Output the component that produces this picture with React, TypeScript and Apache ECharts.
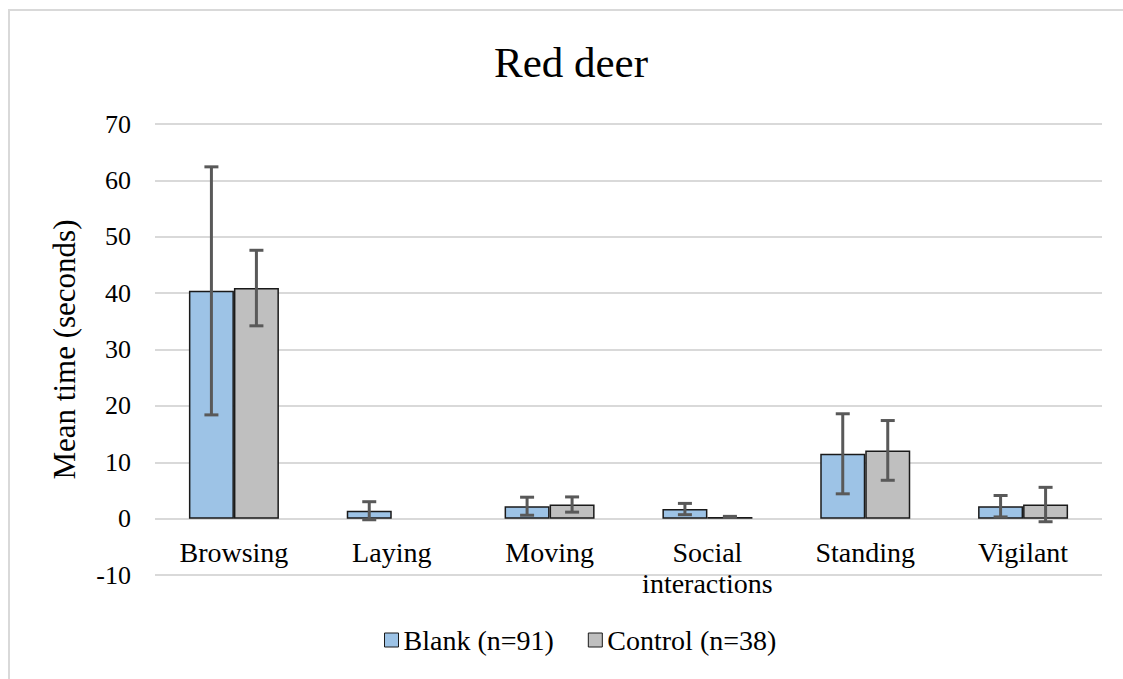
import React, { useEffect, useRef } from "react";
import * as echarts from "echarts";

const categories = ["Browsing", "Laying", "Moving", "Social\ninteractions", "Standing", "Vigilant"];
const blankMeans: (number | null)[] = [40.4, 1.4, 2.2, 1.7, 11.5, 2.2];
const blankErr: (number | null)[] = [22.0, 1.6, 1.6, 1.0, 7.1, 1.9];
const controlMeans: (number | null)[] = [40.9, null, 2.5, 0.3, 12.1, 2.5];
const controlErr: (number | null)[] = [6.7, null, 1.35, 0.1, 5.3, 3.05];
const yTicks = { min: -10, max: 70, interval: 10 };

const FONT = "Liberation Serif";
const BAR_W = 45;
const GRID_TOP = 124;
const GRID_BOTTOM = 104;
const CHART_H = 679;

function errorSeries(name: string, means: (number | null)[], errs: (number | null)[], offset: number) {
  const data = means
    .map((m, i) => (m == null || errs[i] == null ? null : [i, m - (errs[i] as number), m + (errs[i] as number)]))
    .filter((d) => d != null);
  return {
    type: "custom",
    name: name + "-err",
    silent: true,
    z: 10,
    data,
    encode: { x: 0, y: [1, 2] },
    renderItem: (params: any, api: any) => {
      const idx = api.value(0);
      const lo = api.coord([idx, api.value(1)]);
      const hi = api.coord([idx, api.value(2)]);
      const x = lo[0] + offset;
      const cap = 7;
      const style = { stroke: "#595959", lineWidth: 3 };
      return {
        type: "group",
        children: [
          { type: "line", shape: { x1: x, y1: lo[1], x2: x, y2: hi[1] }, style },
          { type: "line", shape: { x1: x - cap, y1: lo[1], x2: x + cap, y2: lo[1] }, style },
          { type: "line", shape: { x1: x - cap, y1: hi[1], x2: x + cap, y2: hi[1] }, style },
        ],
      };
    },
  };
}

export default function App() {
  const ref = useRef<HTMLDivElement>(null);
  useEffect(() => {
    if (!ref.current) return;
    const chart = echarts.init(ref.current, undefined, { renderer: "svg" });
    const plotH = CHART_H - GRID_TOP - GRID_BOTTOM;
    const zeroOffset = (plotH * (0 - yTicks.min)) / (yTicks.max - yTicks.min);
    chart.setOption({
      animation: false,
      backgroundColor: "#ffffff",
      graphic: [
        {
          type: "rect",
          shape: { x: 9, y: 10, width: 1300, height: 800 },
          style: { fill: "none", stroke: "#d9d9d9", lineWidth: 2 },
          silent: true,
        },
      ],
      title: {
        text: "Red deer",
        left: 489,
        top: 36,
        textStyle: { fontFamily: FONT, fontSize: 43, fontWeight: "normal", color: "#000" },
      },
      legend: {
        bottom: 20,
        left: 379,
        itemWidth: 14,
        itemHeight: 14,
        itemGap: 34,
        itemStyle: { borderColor: "#1a1a1a", borderWidth: 1 },
        icon: "rect",
        textStyle: { fontFamily: FONT, fontSize: 28, color: "#000" },
        data: ["Blank (n=91)", "Control (n=38)"],
      },
      grid: { left: 155, right: 21, top: GRID_TOP, bottom: GRID_BOTTOM, containLabel: false },
      xAxis: {
        type: "category",
        data: categories,
        offset: -zeroOffset,
        axisLine: { show: false, onZero: false },
        axisTick: { show: false },
        axisLabel: {
          interval: 0,
          hideOverlap: false,
          fontFamily: FONT,
          fontSize: 28,
          color: "#000",
          margin: 18,
          lineHeight: 31,
        },
      },
      yAxis: {
        type: "value",
        min: yTicks.min,
        max: yTicks.max,
        interval: yTicks.interval,
        name: "Mean time (seconds)",
        nameLocation: "middle",
        nameGap: 75,
        nameTextStyle: { fontFamily: FONT, fontSize: 31, color: "#000" },
        axisLine: { show: false },
        axisTick: { show: false },
        axisLabel: { fontFamily: FONT, fontSize: 26, color: "#000", margin: 24 },
        splitLine: { lineStyle: { color: "#d9d9d9", width: 2 } },
      },
      series: [
        {
          type: "bar",
          name: "Blank (n=91)",
          data: blankMeans,
          barWidth: BAR_W,
          barGap: "0%",
          itemStyle: { color: "#9dc3e6", borderColor: "#1a1a1a", borderWidth: 1.5 },
        },
        {
          type: "bar",
          name: "Control (n=38)",
          data: controlMeans,
          barWidth: BAR_W,
          barGap: "0%",
          itemStyle: { color: "#bfbfbf", borderColor: "#1a1a1a", borderWidth: 1.5 },
        },
        errorSeries("blank", blankMeans, blankErr, -BAR_W / 2),
        errorSeries("control", controlMeans, controlErr, BAR_W / 2),
      ],
    });
    return () => chart.dispose();
  }, []);
  return (
    <div
      ref={ref}
      style={{ position: "fixed", left: 0, top: 0, width: 1123, height: 679, background: "#fff" }}
    />
  );
}
